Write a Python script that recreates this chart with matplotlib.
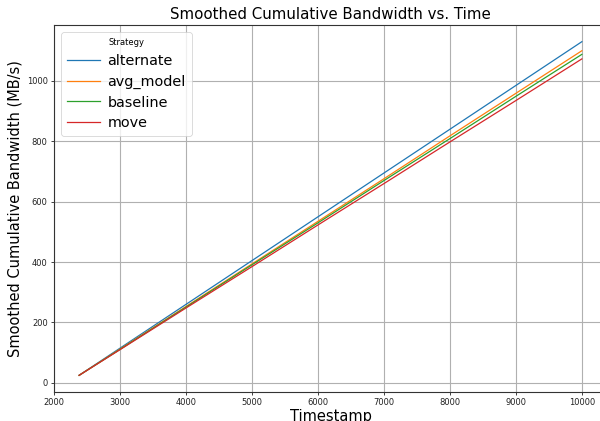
import matplotlib
matplotlib.use("Agg")
import matplotlib.pyplot as plt

timestamps = [2380, 3000, 4000, 5000, 6000, 7000, 8000, 9000, 10000]
strategies = ["alternate", "avg_model", "baseline", "move"]
alternate = [25, 115, 260, 405, 550, 695, 840, 985, 1130]
avg_model = [25, 112, 253, 394, 535, 676, 818, 959, 1100]
baseline = [25, 111, 251, 391, 530, 670, 809, 949, 1088]
move = [25, 110, 248, 385, 523, 660, 798, 935, 1073]
series = [alternate, avg_model, baseline, move]
colors = ["#1f77b4", "#ff7f0e", "#2ca02c", "#d62728"]

fig = plt.figure(figsize=(6.0, 4.21), dpi=100)
ax = fig.add_axes([54/600, 29/421, 553/600, 367/421])

for name, vals, c in zip(strategies, series, colors):
    ax.plot(timestamps, vals, color=c, lw=0.9, label=name)

ax.set_xticks([2000, 3000, 4000, 5000, 6000, 7000, 8000, 9000, 10000])
ax.set_yticks([0, 200, 400, 600, 800, 1000])
ax.grid(True, color="#b0b0b0", lw=0.8)
ax.tick_params(labelsize=6, length=2.5, width=0.6, pad=2, colors="#222222")
for s in ax.spines.values():
    s.set_linewidth(0.8)
    s.set_color("#333333")

ax.set_title("Smoothed Cumulative Bandwidth vs. Time", fontsize=10.8, pad=4)
ax.set_xlabel("Timestamp", fontsize=10.5, labelpad=1)
ax.set_ylabel("Smoothed Cumulative Bandwidth (MB/s)", fontsize=10.5, labelpad=3)

leg = ax.legend(title="Strategy", loc="upper left", fontsize=10.4, title_fontsize=6,
                handlelength=2.3, borderpad=0.4, labelspacing=0.47, handletextpad=0.5,
                fancybox=True, framealpha=0.8)
leg.get_frame().set_linewidth(0.6)

fig.savefig("out.png", dpi=100)
